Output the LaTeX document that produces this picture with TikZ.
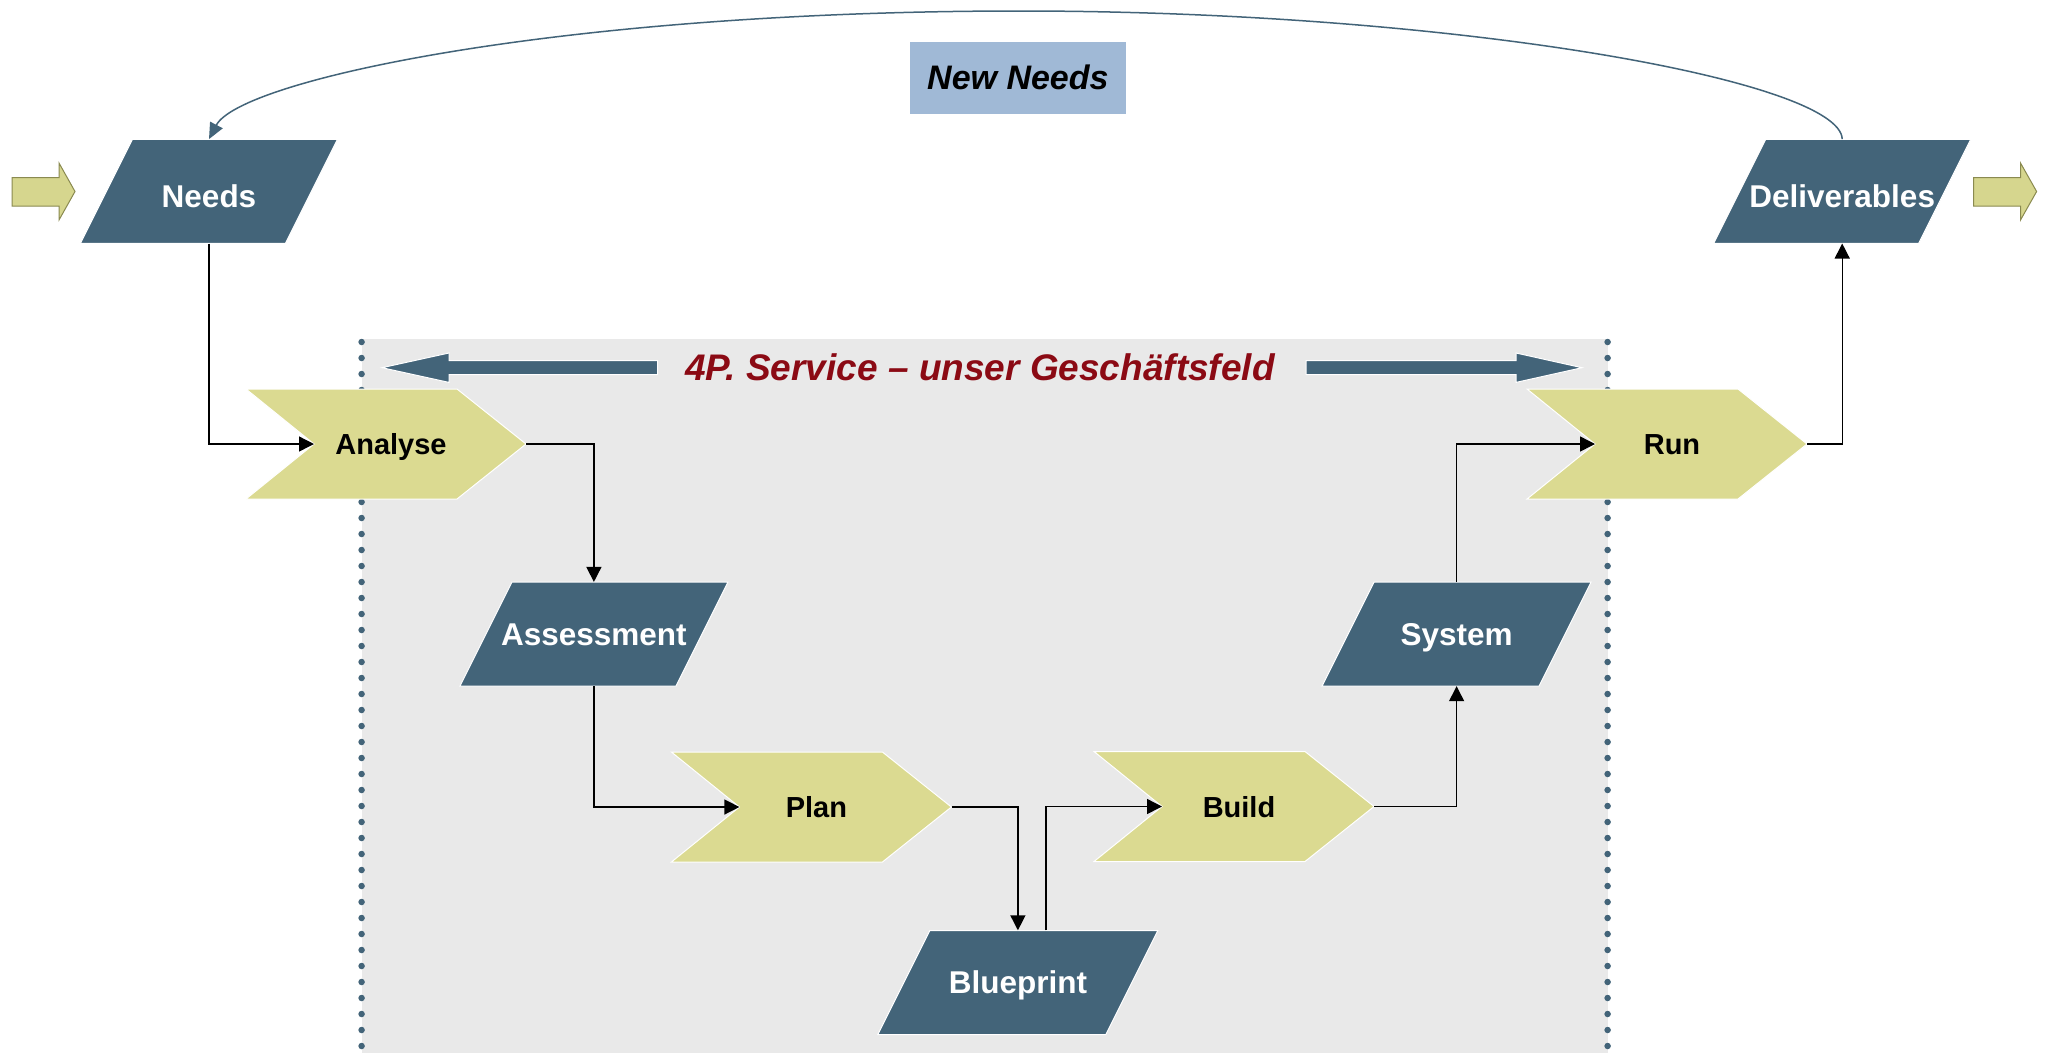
\documentclass[tikz,border=0pt]{standalone}
\usepackage{fontspec}
\setmainfont{Liberation Sans}
\usetikzlibrary{arrows.meta,calc}
\definecolor{slate}{HTML}{436479}
\definecolor{chevc}{HTML}{DBDA91}
\definecolor{bgc}{HTML}{E9E9E9}
\definecolor{nnc}{HTML}{A0B9D6}
\definecolor{dred}{HTML}{8B0A14}
\definecolor{olivec}{HTML}{D6D68E}
\definecolor{olived}{HTML}{8A8A50}
\newcommand\mychev[4]{%
  \path[chevbox] (#2,#3) -- ++(211,0) -- ++(69,55) -- ++(-69,55) -- ++(-211,0) -- ++(68,-55) -- cycle;
  \node[clabel] (#1) at ($(#2,#3)+(145,55)$) {#4};
  \coordinate (#1-in) at ($(#2,#3)+(68,55)$);
}
\newcommand\mypara[6][]{%
  \path[parabox] ($(#3,#4)+({-#5/2+26},-52)$) -- ++(#5,0) -- ++(-52,104) -- ++(-#5,0) -- cycle;
  \node[plabel, minimum width=#5pt, #1] (#2) at (#3,#4) {#6};
}
\begin{document}
\begin{tikzpicture}[x=1pt,y=-1pt,
  parabox/.style={fill=slate, draw=white, line width=1pt},
  chevbox/.style={fill=chevc, draw=white, line width=1pt},
  plabel/.style={text=white, font=\fontsize{31.5}{36}\selectfont\bfseries, inner sep=0pt, minimum height=104pt, text height=22.5pt, text depth=0pt},
  lowlabel/.style={text height=32pt},
  clabel/.style={text=black, font=\fontsize{29}{34}\selectfont\bfseries, inner sep=0pt, minimum width=270pt, minimum height=110pt, text height=21pt, text depth=0pt},
  conn/.style={draw=black, line width=1.4pt, -{Triangle[length=15pt,width=15pt]}},
  loop/.style={draw=slate, line width=1.5pt, -{Triangle[length=16pt,width=14pt]}},
  dotline/.style={draw=slate, line width=6.5pt, line cap=round, dash pattern=on 0pt off 16pt},
  bigarrow/.style={fill=slate, draw=white, line width=1pt},
  inarrow/.style={fill=olivec, draw=olived, line width=1pt}
]
\useasboundingbox (0,0) rectangle (2049,1053);
\fill[white] (0,0) rectangle (2049,1053);
% grey field
\fill[bgc] (361.6,339) rectangle (1607.6,1053);
\draw[dotline] (361.6,342) -- (361.6,1053);
\draw[dotline] (1607.6,342) -- (1607.6,1053);
% banner arrows
\path[bigarrow] (657.6,360.7) -- (449,360.7) -- (449,353) -- (382,367.7) -- (449,382.4) -- (449,374.7) -- (657.6,374.7) -- cycle;
\path[bigarrow] (1306,360.7) -- (1516,360.7) -- (1516,353) -- (1582,367.7) -- (1516,382.4) -- (1516,374.7) -- (1306,374.7) -- cycle;
\node[anchor=base, text=dred, font=\fontsize{37}{42}\selectfont\bfseries\itshape, inner sep=0pt] (banner) at (980,380) {4P. Service – unser Geschäftsfeld};
% in / out arrows
\path[inarrow] (12,177.7) -- (59,177.7) -- (59,163) -- (75,191.5) -- (59,220) -- (59,206) -- (12,206) -- cycle;
\path[inarrow] (1973.7,177.7) -- (2020.5,177.7) -- (2020.5,163) -- (2036.6,191.5) -- (2020.5,220) -- (2020.5,206) -- (1973.7,206) -- cycle;
% parallelograms
\mypara[lowlabel]{needs}{209}{191.3}{205}{Needs}
\mypara[lowlabel]{deliv}{1842.2}{191.3}{205}{Deliverables}
\mypara{assess}{593.9}{634.1}{216}{Assessment}
\mypara{system}{1456.6}{634}{217}{System}
\mypara{blueprint}{1017.9}{982.5}{228}{Blueprint}
% chevrons
\mychev{analyse}{246}{389}{Analyse}
\mychev{plan}{671.4}{752}{Plan}
\mychev{build}{1094}{751.5}{Build}
\mychev{run}{1527}{389}{Run}
% new needs
\node[fill=nnc, inner sep=0pt, minimum width=216pt, minimum height=71.7pt, text height=24pt, text depth=0pt, font=\fontsize{34}{40}\selectfont\bfseries\itshape] (newneeds) at (1017.9,77.9) {New Needs};
% connectors
\draw[conn] (needs.south) |- (analyse-in);
\draw[conn] (analyse.east) -| (assess.north);
\draw[conn] (assess.south) |- (plan-in);
\draw[conn] (plan.east) -| (blueprint.north);
\coordinate (bpout) at ($(blueprint.north)+(28,0)$);
\draw[conn] (bpout) |- (build-in);
\draw[conn] (build.east) -| (system.south);
\draw[conn] (system.north) |- (run-in);
\draw[conn] (run.east) -| (deliv.south);
\coordinate (apex) at (1020,11);
\draw[loop] (deliv.north) .. controls (1840,80) and (1450,11) .. (apex) .. controls (560,11) and (240,80) .. (needs.north);
\end{tikzpicture}
\end{document}
